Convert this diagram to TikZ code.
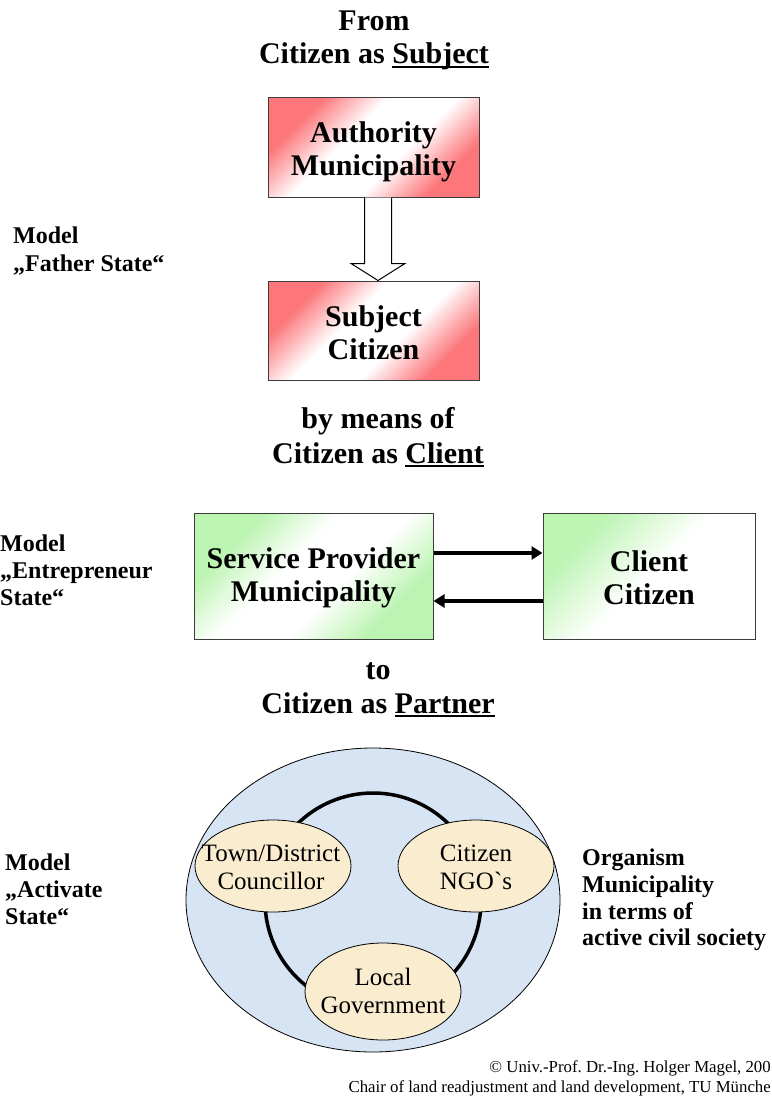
\documentclass[tikz,border=0pt]{standalone}
\usepackage{fontspec}
\setmainfont{Liberation Serif}
\usetikzlibrary{shapes.geometric,arrows.meta,calc}
\definecolor{boxred}{RGB}{252,118,122}
\definecolor{boxgreen}{RGB}{188,244,178}
\definecolor{ovalblue}{RGB}{214,228,243}
\definecolor{ovalbeige}{RGB}{250,236,206}
\definecolor{edgegray}{RGB}{60,60,60}
\pgfdeclareverticalshading{redfade}{100bp}{color(0bp)=(boxred); color(27bp)=(boxred); color(42bp)=(white); color(58bp)=(white); color(73bp)=(boxred); color(100bp)=(boxred)}
\pgfdeclareverticalshading{greenfade}{100bp}{color(0bp)=(boxgreen); color(28bp)=(boxgreen); color(43bp)=(white); color(57bp)=(white); color(72bp)=(boxgreen); color(100bp)=(boxgreen)}
\pgfdeclareverticalshading{greenhalf}{100bp}{color(0bp)=(white); color(50bp)=(white); color(72bp)=(boxgreen); color(100bp)=(boxgreen)}
\newcommand\myul[1]{\setbox0\hbox{#1}\rlap{\rule[-4pt]{\wd0}{2pt}}\box0}
\newcommand\plaingrave{{\addfontfeatures{Ligatures=TeXOff}`}}
\tikzset{
  title/.style={font=\bfseries\fontsize{30}{34}\selectfont, anchor=base, inner sep=0pt},
  side/.style={font=\bfseries\fontsize{24}{27}\selectfont, anchor=base west, inner sep=0pt, align=left},
  boxtext/.style={font=\bfseries\fontsize{30}{33}\selectfont, align=center, inner sep=0pt},
  redbox/.style={draw=edgegray, line width=1pt, inner sep=0pt, minimum width=211pt, minimum height=99pt,
     shading=redfade, shading angle=45},
  greenbox/.style={draw=edgegray, line width=1pt, inner sep=0pt, minimum height=126pt,
     shading=greenfade, shading angle=45},
  oval/.style={draw=black, line width=0.8pt, ellipse, inner sep=0pt, fill=ovalbeige},
  ovaltext/.style={font=\fontsize{25}{28}\selectfont, align=center, inner sep=0pt},
  flow/.style={line width=4pt, -{Triangle[length=11pt,width=13pt]}},
  foot/.style={font=\frenchspacing\fontsize{16.8}{20}\selectfont, anchor=base east, inner sep=0pt}
}
\begin{document}
\begin{tikzpicture}[x=1pt,y=-1pt]
\useasboundingbox (0,0) rectangle (771,1097);

% Titles
\node[title] (t1) at (374,31) {From};
\node[title] (t2) at (374,64) {Citizen as \myul{Subject}};
\node[title] (t3) at (378,428) {by means of};
\node[title] (t4) at (378,463) {Citizen as \myul{Client}};
\node[title] (t5) at (378,679) {to};
\node[title] (t6) at (378,713) {Citizen as \myul{Partner}};

% Father State section
\node[redbox] (auth) at (373.5,147.5) {};
\node[redbox] (subj) at (373.5,330.5) {};
\node[boxtext] (authtext) at ($(auth.center)+(0,4)$) {Authority\\Municipality};
\node[boxtext] (subjtext) at ($(subj.center)+(0,2)$) {Subject\\Citizen};
\coordinate (as) at ($(auth.south)+(4.5,0)$);
\coordinate (sn) at ($(subj.north)+(4.5,0)$);
\draw[line width=1pt, fill=white]
  ($(as)+(-13.5,0)$) -- ($(as)+(-13.5,66)$) -- ($(as)+(-27,66)$) -- (sn)
  -- ($(as)+(27,66)$) -- ($(as)+(13.5,66)$) -- ($(as)+(13.5,0)$);
\node[side] (m1) at (13,243) {Model};
\node[side] (m1b) at (13,271) {„Father State“};

% Entrepreneur section
\node[greenbox, minimum width=239pt] (serv) at (313.5,576) {};
\node[greenbox, minimum width=212pt, shading=greenhalf] (client) at (649,576) {};
\node[boxtext] (servtext) at ($(serv.center)+(0,2)$) {Service Provider\\Municipality};
\node[boxtext] (clienttext) at ($(client.center)+(0,2)$) {Client\\Citizen};
\draw[flow] ($(serv.east)+(0,-23)$) -- ($(client.west)+(0,-23)$);
\draw[flow] ($(client.west)+(0,25)$) -- ($(serv.east)+(0,25)$);
\node[side] (m2) at (0,551) {Model};
\node[side] (m2b) at (0,578) {„Entrepreneur};
\node[side] (m2c) at (0,605) {State“};

% Activate section
\node[draw=black, line width=0.8pt, ellipse, fill=ovalblue, minimum width=374pt, minimum height=304pt, inner sep=0pt] (big) at (373,900) {};
\node[draw=black, line width=3.5pt, circle, minimum size=216pt, inner sep=0pt] (ring) at (373,901) {};
\node[oval, minimum width=156pt, minimum height=92pt] (o1) at (273,866) {};
\node[oval, minimum width=156pt, minimum height=92pt] (o2) at (476,866) {};
\node[oval, minimum width=156pt, minimum height=97pt] (o3) at (383,991.5) {};
\node[ovaltext] (o1t) at ($(o1.center)+(-2,1)$) {Town/District\\Councillor};
\node[ovaltext] (o2t) at ($(o2.center)+(0,1)$) {Citizen\\NGO\plaingrave s};
\node[ovaltext] (o3t) at ($(o3.center)+(0,-1)$) {Local\\Government};

\node[side] (m3) at (5,870) {Model};
\node[side] (m3b) at (5,897) {„Activate};
\node[side] (m3c) at (5,924) {State“};

\node[side] (r1) at (582,865) {Organism};
\node[side] (r2) at (582,892) {Municipality};
\node[side] (r3) at (582,919) {in terms of};
\node[side] (r4) at (582,945) {active civil society};

% Footer
\node[foot] (f1) at (771,1072) {© Univ.-Prof. Dr.-Ing. Holger Magel, 200};
\node[foot] (f2) at (771,1092) {Chair of land readjustment and land development, TU Münche};
\end{tikzpicture}
\end{document}
